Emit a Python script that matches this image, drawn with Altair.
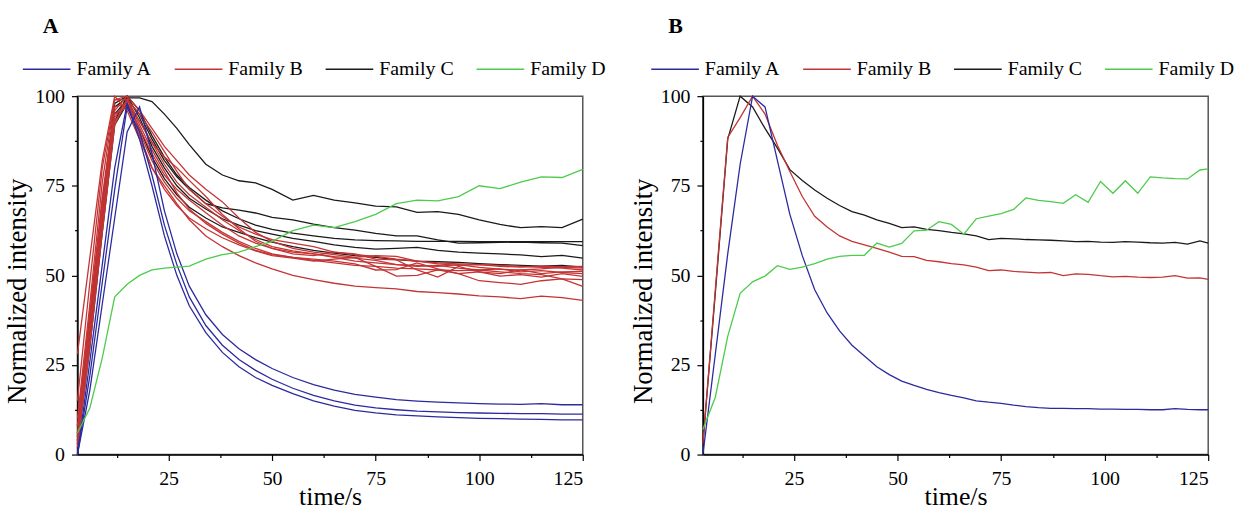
import altair as alt
import pandas as pd

FAMILIES = ["Family A", "Family B", "Family C", "Family D"]
COLORS = ["#2B2B9E", "#C43434", "#1A1A1A", "#4CCB4C"]

# ---------------- Panel A (time grid) ----------------
T_A = [3, 6, 9, 12, 15, 18, 21, 24, 27, 30, 34, 38, 42, 46, 50, 55, 60, 65, 70, 75,
       80, 85, 90, 95, 100, 105, 110, 115, 120, 125]

A_FAM_A = [
    [0, 18, 42, 66, 90, 97, 84, 68, 56, 47, 39, 33.5, 29.5, 26.5, 24, 21.5, 19.5, 18, 16.8, 16,
     15.3, 14.9, 14.6, 14.4, 14.2, 14.1, 14, 14.2, 13.9, 13.9],
    [0, 22, 48, 74, 97, 90, 78, 64, 53, 44, 36, 30.5, 26.5, 23.5, 21, 18.5, 16.5, 15, 13.8, 13,
     12.5, 12.1, 11.9, 11.7, 11.6, 11.5, 11.4, 11.4, 11.3, 11.3],
    [0, 26, 53, 80, 98, 88, 75, 61, 50, 41.5, 34, 28.5, 24.5, 21.5, 19.3, 17, 15, 13.5, 12.3, 11.6,
     11.1, 10.8, 10.5, 10.3, 10.1, 10, 9.9, 9.8, 9.7, 9.7],
]
A_FAM_B = [
    [28, 55, 82, 100, 96, 88, 80, 75, 70, 65.5, 61, 58, 55.5, 53.5, 51.8, 50, 48.8, 47.8, 47, 46.6,
     46.2, 45.5, 45.2, 44.8, 44.3, 44, 43.5, 44.2, 43.8, 43],
    [15, 48, 80, 99, 100, 96, 91, 86, 82, 78, 74, 70.5, 66, 62, 59.5, 57.5, 56.5, 55.8, 55, 55.5,
     55.3, 54, 53.2, 52.8, 53, 52.5, 52.3, 52.6, 52.4, 52.5],
    [10, 42, 76, 99, 99, 93, 87, 83, 80, 76.5, 72, 67, 63, 59.5, 57.5, 56, 55.5, 56.5, 56, 54.5,
     54.3, 51.5, 49.5, 52.5, 51, 50.5, 51.5, 50.5, 51, 51.1],
    [8, 40, 72, 97, 98, 91, 84, 78, 74, 71, 67.5, 64, 61, 59, 57.5, 56.5, 56, 55, 54, 53.5,
     53, 52.5, 52.8, 52, 51.5, 51.8, 51, 51.3, 50.8, 50.5],
    [6, 38, 70, 96, 100, 90, 82, 76, 71.5, 68, 65, 62, 59.5, 57.5, 56, 55, 54.5, 54, 53.2, 51.5,
     51.6, 53.5, 51.8, 50.5, 51, 49.8, 50.2, 49.5, 50.5, 49.7],
    [5, 36, 68, 95, 97, 89, 80, 74, 69.5, 66, 63, 60.5, 58.5, 56.8, 55.5, 54.8, 54, 54.5, 55, 52.5,
     49.8, 50, 51.5, 50.5, 48.5, 48, 47.5, 48.5, 49, 48.8],
    [4, 34, 66, 94, 99, 92, 85, 79, 73, 68.5, 64.5, 61.5, 59, 57, 55.8, 55, 54.2, 53.5, 52.8, 52.5,
     52, 51.8, 51.5, 51.3, 51.5, 51, 50.5, 50.2, 49, 46.9],
    [3, 32, 64, 93, 98, 93, 87, 81, 76, 72.5, 69, 65.5, 62.5, 60, 58, 56.8, 56, 55.2, 54.8, 54.2,
     53, 52.8, 52.5, 53, 52.2, 51.7, 51.5, 51.8, 52.3, 52],
    [2, 30, 62, 92, 99, 95, 90, 84.5, 79, 74, 70, 66.5, 63.5, 61.5, 60, 59, 58, 56.5, 55.8, 55.3,
     54.5, 54, 53.5, 53.2, 53, 52.8, 52.5, 52.2, 52, 51.5],
]
A_FAM_C = [
    [8, 38, 70, 97, 99.5, 99.5, 98.5, 95, 91, 86.5, 81, 78, 76.4, 75.8, 74, 71, 72.3, 71, 70.2, 69.3,
     69.1, 67.6, 67.8, 67, 65.5, 64.2, 63.3, 63.6, 63.3, 65.7],
    [5, 35, 68, 95, 99, 95, 88, 82, 77.5, 74, 70, 68.8, 68.2, 67.4, 66.2, 65.5, 64.3, 63.3, 62.6, 61.7,
     61, 61, 59.9, 59, 59.1, 59.2, 59.3, 59.1, 59, 58.3],
    [4, 33, 65, 93, 100, 94, 86, 80, 75, 71.5, 68.5, 65.8, 64, 62.5, 61.5, 60.3, 59.5, 58.5, 57.8, 57.3,
     57.5, 57.8, 57, 56.5, 56.2, 56, 55.7, 55.2, 55.6, 54.8],
    [3, 30, 62, 92, 98, 91, 83, 77, 72.5, 69, 66, 63.5, 62, 60.5, 59.3, 58, 57, 56.2, 55.5, 55,
     54.4, 54, 53.8, 53.6, 53.3, 53, 52.8, 52.6, 52.8, 52.3],
    [6, 36, 70, 98, 100, 96, 89, 83, 78, 74.5, 71, 68, 65.8, 64, 62.8, 61.8, 61, 60.3, 59.9, 59.7,
     59.6, 59.5, 59.5, 59.5, 59.4, 59.4, 59.4, 59.4, 59.4, 59.4],
]
A_FAM_D = [
    [6, 13, 27, 44, 47.5, 50, 51.5, 52, 52.3, 52.6, 54.5, 55.8, 56.5, 58, 59.5, 62.5, 64, 63.3, 65, 67,
     70, 71, 70.8, 72, 75, 74.2, 76, 77.5, 77.3, 79.6],
]

# ---------------- Panel B (time grid) ----------------
T_B = [3, 6, 9, 12, 15, 18, 21, 24, 27, 30, 33, 36, 39, 42, 45, 48, 51, 54, 57, 60, 63,
       66, 69, 72, 75, 78, 81, 84, 87, 90, 93, 96, 99, 102, 105, 108, 111, 114, 117, 120, 123, 125]

B_FAM_A = [0, 28, 56, 81, 100, 97, 82, 67, 55.5, 46, 39.5, 34.5, 30.5, 27.5, 24.5, 22.3, 20.5, 19.3, 18.2,
           17.3, 16.5, 15.8, 15, 14.6, 14.3, 13.8, 13.4, 13.1, 12.9, 12.9, 12.8, 12.8, 12.7, 12.7, 12.6,
           12.6, 12.5, 12.5, 12.8, 12.6, 12.5, 12.5]
B_FAM_B = [3, 46, 88.5, 94, 100, 95, 86.3, 79, 72, 66.5, 63.5, 61, 59.5, 58.5, 57.5, 56.5, 55.3, 55.2, 54.2,
           53.8, 53.3, 52.9, 52.3, 51.3, 51.5, 51.1, 50.9, 50.7, 50.8, 49.9, 50.4, 50.3, 49.9, 49.6, 49.7,
           49.5, 49.4, 49.5, 49.9, 49.2, 49.3, 48.9]
B_FAM_C = [3, 45, 88, 100, 97, 91, 85.5, 79.5, 76.5, 73.8, 71.5, 69.5, 67.8, 66.8, 65.5, 64.5, 63.3, 63.5,
           62.8, 62.5, 62, 61.6, 61, 60, 60.3, 60.2, 60, 59.9, 59.8, 59.6, 59.4, 59.5, 59.3, 59.2, 59.4,
           59.3, 59.1, 59, 59.2, 58.7, 59.6, 59]
B_FAM_D = [7, 16, 33, 45, 48.2, 49.8, 52.7, 51.7, 52.3, 53.3, 54.5, 55.3, 55.6, 55.6, 59, 57.9, 58.9, 62.4,
           62.6, 65, 64.2, 61.5, 65.8, 66.5, 67.2, 68.4, 71.6, 70.9, 70.6, 70.1, 72.5, 70.4, 76.2, 72.9,
           76.4, 72.9, 77.5, 77.2, 77, 76.9, 79.4, 79.7]


def rows_for(times, family, curves, prefix):
    out = []
    for i, vals in enumerate(curves):
        for t, v in zip(times, vals):
            out.append({"t": t, "v": v, "family": family, "curve": f"{prefix}{family}-{i}"})
    return out


rows_a = []
rows_a += rows_for(T_A, "Family C", A_FAM_C, "A")
rows_a += rows_for(T_A, "Family B", A_FAM_B, "A")
rows_a += rows_for(T_A, "Family A", A_FAM_A, "A")
rows_a += rows_for(T_A, "Family D", A_FAM_D, "A")
df_a = pd.DataFrame(rows_a)

rows_b = []
rows_b += rows_for(T_B, "Family C", [B_FAM_C], "B")
rows_b += rows_for(T_B, "Family B", [B_FAM_B], "B")
rows_b += rows_for(T_B, "Family A", [B_FAM_A], "B")
rows_b += rows_for(T_B, "Family D", [B_FAM_D], "B")
df_b = pd.DataFrame(rows_b)

FONT = "Liberation Serif"
X_TICKS = [12.5, 25, 37.5, 50, 62.5, 75, 87.5, 100, 112.5, 125]
Y_TICKS = [0, 12.5, 25, 37.5, 50, 62.5, 75, 87.5, 100]


def panel(df, letter, legend_x):
    x_axis = alt.Axis(
        values=X_TICKS,
        labelExpr="datum.value % 25 == 0 ? datum.label : ''",
        tickSize={"condition": {"test": "datum.value % 25 == 0", "value": 6}, "value": 3},
        title="time/s",
        titleFontSize=26,
        titlePadding=-5,
        labelFontSize=20,
        labelPadding=8,
        grid=False,
    )
    y_axis = alt.Axis(
        values=Y_TICKS,
        labelExpr="datum.value % 25 == 0 ? datum.label : ''",
        tickSize={"condition": {"test": "datum.value % 25 == 0", "value": 6}, "value": 3},
        title="Normalized intensity",
        titleFontSize=27,
        titlePadding=3,
        titleY=196,
        labelFontSize=20,
        labelPadding=7,
        grid=False,
    )
    legend = alt.Legend(
        orient="none",
        legendX=legend_x,
        legendY=-52,
        direction="horizontal",
        columns=4,
        title=None,
        symbolType="stroke",
        symbolSize=2304,
        symbolStrokeWidth=1.5,
        labelFontSize=20,
        labelFont=FONT,
        labelColor="black",
        labelOffset=5,
        columnPadding=19,
        padding=0,
    )
    return (
        alt.Chart(df)
        .mark_line(strokeWidth=1.3)
        .encode(
            x=alt.X("t:Q", scale=alt.Scale(domain=[3, 125], nice=False, zero=False), axis=x_axis),
            y=alt.Y("v:Q", scale=alt.Scale(domain=[0, 100], nice=False), axis=y_axis),
            color=alt.Color("family:N", scale=alt.Scale(domain=FAMILIES, range=COLORS), legend=legend),
            detail="curve:N",
        )
        .properties(
            width=509,
            height=361,
            title=alt.TitleParams(
                letter, anchor="start", frame="group", dx=-35, fontSize=22,
                font=FONT, fontWeight="bold", offset=7, color="black",
            ),
        )
    )


chart = (
    alt.hconcat(panel(df_a, "A", -56), panel(df_b, "B", -53), spacing=21)
    .resolve_scale(color="independent")
    .resolve_legend(color="independent")
    .properties(padding={"left": 3, "top": 12, "right": 0, "bottom": 0}, background="white")
    .configure_view(stroke="#555555", strokeWidth=1.5)
    .configure_axis(
        domainColor="black", domainWidth=1.5, tickColor="black", tickWidth=1.2,
        labelFont=FONT, titleFont=FONT, labelColor="black", titleColor="black",
        titleFontWeight="normal",
    )
)

chart.save("out.html", embed_options={"renderer": "svg", "actions": False})
